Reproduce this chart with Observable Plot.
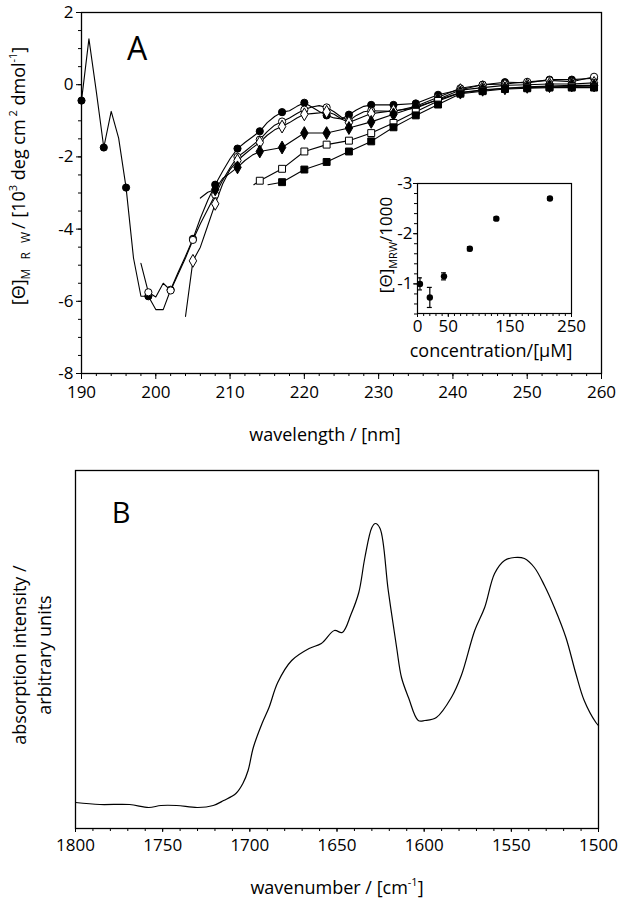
<!DOCTYPE html>
<html><head><meta charset="utf-8">
<script src="https://cdn.jsdelivr.net/npm/d3@7"></script>
<script src="https://cdn.jsdelivr.net/npm/@observablehq/plot@0.6"></script>
<style>
body{margin:0;background:#fff;}
#root{position:relative;width:619px;height:900px;overflow:hidden;background:#fff;font-family:"Open Sans",sans-serif;}
#root svg{position:absolute;overflow:visible;}
</style></head><body><div id="root"></div>
<script>
// ---------- Panel A: CD spectra (wavelength nm, [Θ]MRW 10^3 deg cm2 dmol-1) ----------
const w1 = [190,191,192,193,194,195,196,197,198,199,200,201,202,203,204,205,206,207,208,209,210,211,212,213,214,215,216,217,218,219,220,221,222,223,224,225,226,227,228,229,232,235,238,241,244,247,250,253,256,259];
const v1 = [-0.44,1.27,-0.2,-1.74,-0.74,-1.48,-2.85,-4.8,-5.86,-5.86,-6.23,-6.23,-5.68,-5.2,-4.75,-4.27,-3.7,-3.2,-2.77,-2.4,-2.05,-1.77,-1.6,-1.45,-1.29,-1.05,-0.88,-0.76,-0.72,-0.6,-0.5,-0.62,-0.74,-0.85,-0.92,-0.95,-0.83,-0.7,-0.6,-0.56,-0.56,-0.52,-0.28,-0.14,0.0,0.07,0.05,0.14,0.14,0.18];
const w2 = [198,199,200,201,202,203,204,205,206,207,208,209,210,211,212,213,214,215,216,217,218,219,220,221,222,223,224,225,226,227,228,229,232,235,238,241,244,247,250,253,256,259];
const v2 = [-4.95,-5.75,-5.88,-5.5,-5.7,-5.25,-4.8,-4.3,-3.85,-3.45,-3.05,-2.65,-2.3,-2.0,-1.85,-1.68,-1.52,-1.3,-1.12,-1.02,-0.92,-0.8,-0.69,-0.62,-0.58,-0.63,-0.75,-0.9,-1.0,-0.85,-0.75,-0.72,-0.74,-0.6,-0.35,-0.1,0.0,0.02,0.08,0.12,0.08,0.22];
const w3 = [204,205,206,207,208,209,210,211,212,213,214,215,216,217,218,219,220,221,222,223,224,225,226,229,232,235,238,241,244,247,250,253,256,259];
const v3 = [-6.42,-4.88,-4.5,-3.9,-3.3,-2.75,-2.35,-2.1,-1.92,-1.75,-1.6,-1.4,-1.25,-1.16,-1.05,-0.92,-0.82,-0.8,-0.78,-0.75,-0.82,-0.95,-1.05,-0.8,-0.72,-0.65,-0.4,-0.15,-0.08,-0.02,0.0,0.02,0.02,0.05];
const w4 = [206,207,208,209,210,211,212,213,214,217,220,223,226,229,232,235,238,241,244,247,250,253,256,259];
const v4 = [-3.14,-2.98,-2.9,-2.6,-2.45,-2.29,-2.1,-1.95,-1.85,-1.74,-1.34,-1.34,-1.2,-1.03,-0.82,-0.62,-0.42,-0.22,-0.14,-0.1,-0.06,-0.04,-0.02,-0.02];
const w5 = [213.2,214,217,220,223,226,229,232,235,238,241,244,247,250,253,256,259];
const v5 = [-2.77,-2.66,-2.33,-1.85,-1.66,-1.55,-1.34,-1.06,-0.75,-0.45,-0.22,-0.16,-0.1,-0.08,-0.06,-0.05,-0.06];
const w6 = [215.1,217,220,223,226,229,232,235,238,241,244,247,250,253,256,259];
const v6 = [-2.77,-2.7,-2.35,-2.14,-1.85,-1.57,-1.18,-0.85,-0.55,-0.25,-0.18,-0.12,-0.1,-0.08,-0.08,-0.08];

const xTicksA = [190,200,210,220,230,240,250,260];
const yTicksA = [-8,-6,-4,-2,0,2];

// ---------- Inset: [Θ]MRW/1000 vs concentration ----------
const conc = [4, 20, 43, 85, 128, 215];
const theta = [-1.0, -0.73, -1.15, -1.7, -2.3, -2.7];
const thetaErr = [0.12, 0.2, 0.07, 0.04, 0.03, 0.03];
const xTicksInset = [0, 50, 150, 250];
const yTicksInset = [-3, -2, -1];

// ---------- Panel B: IR absorption (wavenumber cm-1, arbitrary units) ----------
const wn = [1800,1786,1769,1758,1751,1742,1730,1721,1715,1708,1704,1701,1698,1693,1689,1684,1676,1666,1659,1651.5,1647,1642,1637.5,1634,1630,1628,1625.3,1620.6,1615.8,1613,1609,1603.4,1599.6,1593,1584.4,1578.7,1571,1565.3,1559.6,1553.9,1548.2,1542.5,1536.8,1531,1525.3,1518.7,1513,1508.2,1501.5,1500];
const absorb = [26,24,24,21,23,23,21,23,28,35,45,58,81,105,121,146,168,180,185,198,196,214,236,271,301,305,300,238,181,151,131,108,108,111,131,153,198,221,255,268,271,270,261,243,221,191,155,128,106,103];
const xTicksB = [1800,1750,1700,1650,1600,1550,1500];

// ---------- helpers ----------
const FONT = "'Open Sans', sans-serif";
const root = document.getElementById("root");
function place(svg, left, top){ svg.style.left = left+"px"; svg.style.top = top+"px"; root.appendChild(svg); }
const fmt = d => String(d);
const none = () => "";

// ---------- Panel A ----------
const seriesA = [
  {id:"s1", w:w1, v:v1, symbol:"circle", fill:"black"},
  {id:"s2", w:w2, v:v2, symbol:"circle", fill:"white"},
  {id:"s3", w:w3, v:v3, symbol:"diamond", fill:"white"},
  {id:"s4", w:w4, v:v4, symbol:"diamond", fill:"black"},
  {id:"s5", w:w5, v:v5, symbol:"square", fill:"white"},
  {id:"s6", w:w6, v:v6, symbol:"square", fill:"black"}
];
const rowsA = [];
seriesA.forEach(s => s.w.forEach((w,i) => rowsA.push({s:s.id, w, v:s.v[i]})));
const isMarker = d => Math.abs((d.w - 190) % 3) < 1e-6;

const chartA = Plot.plot({
  width: 619, height: 450,
  marginLeft: 81, marginRight: 18, marginTop: 12, marginBottom: 77,
  x: {domain: [190, 260], label: null},
  y: {domain: [-8, 2], label: null},
  style: {fontFamily: FONT, fontSize: "17px", color: "black", background: "transparent", overflow: "visible"},
  marks: [
    Plot.frame({stroke: "black", strokeWidth: 1.3}),
    Plot.axisX({ticks: d3.range(190, 261, 2), tickSize: 3, tickFormat: none, label: null}),
    Plot.axisX({ticks: xTicksA, tickSize: 6, tickPadding: 6, tickFormat: fmt, fontSize: 17, label: null}),
    Plot.axisY({ticks: d3.range(-8, 2.01, 0.5), tickSize: 3, tickFormat: none, label: null}),
    Plot.axisY({ticks: yTicksA, tickSize: 5, tickPadding: 3, tickFormat: fmt, fontSize: 17, label: null}),
    Plot.line(rowsA, {x: "w", y: "v", z: "s", stroke: "black", strokeWidth: 1.1}),
    ...seriesA.map(s => Plot.dot(rowsA.filter(d => d.s === s.id && isMarker(d)),
      {x: "w", y: "v", symbol: s.symbol, fill: s.fill, stroke: "black", strokeWidth: 1, r: s.symbol === "circle" ? 3.6 : 3.9}))
  ]
});
{
  const s = d3.select(chartA);
  s.append("text").attr("x", 137).attr("y", 60).attr("text-anchor", "middle")
    .attr("font-size", 32).attr("font-family", FONT).attr("fill", "black").text("A");
  s.append("text").attr("x", 325).attr("y", 441).attr("text-anchor", "middle")
    .attr("font-size", 18).attr("font-family", FONT).attr("fill", "black").text("wavelength / [nm]");
  const t = s.append("text").attr("transform", "translate(25,176) rotate(-90)").attr("text-anchor", "middle")
    .attr("font-size", 18).attr("font-family", FONT).attr("fill", "black");
  t.append("tspan").text("[Θ]");
  t.append("tspan").attr("font-size", 12).attr("dy", 5).attr("letter-spacing", 3).text("M R W");
  t.append("tspan").attr("dy", -5).text("/ [10");
  t.append("tspan").attr("font-size", 11).attr("dy", -8).text("3");
  t.append("tspan").attr("dy", 8).text(" deg cm");
  t.append("tspan").attr("font-size", 11).attr("dy", -8).text(" 2");
  t.append("tspan").attr("dy", 8).text(" dmol");
  t.append("tspan").attr("font-size", 11).attr("dy", -8).text("-1");
  t.append("tspan").attr("dy", 8).text("]");
}
place(chartA, 0, 0);

// ---------- Inset ----------
const rowsI = conc.map((c, i) => ({c, t: theta[i], e: thetaErr[i]}));
const chartI = Plot.plot({
  width: 250, height: 200,
  marginLeft: 67, marginRight: 29, marginTop: 13, marginBottom: 57,
  x: {domain: [0, 250], label: null},
  y: {domain: [-0.41, -3], label: null},
  style: {fontFamily: FONT, fontSize: "17px", color: "black", background: "transparent", overflow: "visible"},
  marks: [
    Plot.frame({stroke: "black", strokeWidth: 1.2, fill: "white"}),
    Plot.axisX({ticks: d3.range(0, 251, 10), tickSize: 3, tickFormat: none, label: null}),
    Plot.axisX({ticks: xTicksInset, tickSize: 4, tickPadding: 2, tickFormat: fmt, fontSize: 17, label: null}),
    Plot.axisY({ticks: d3.range(-3, -0.39, 0.2), tickSize: 3, tickFormat: none, label: null}),
    Plot.axisY({ticks: yTicksInset, tickSize: 4, tickPadding: 1, tickFormat: fmt, fontSize: 17, label: null}),
    Plot.ruleX(rowsI, {x: "c", y1: d => d.t - d.e, y2: d => d.t + d.e, stroke: "black", strokeWidth: 1.2}),
    Plot.ruleY(rowsI, {y: d => d.t - d.e, x1: d => d.c - 4, x2: d => d.c + 4, stroke: "black", strokeWidth: 1.2}),
    Plot.ruleY(rowsI, {y: d => d.t + d.e, x1: d => d.c - 4, x2: d => d.c + 4, stroke: "black", strokeWidth: 1.2}),
    Plot.dot(rowsI, {x: "c", y: "t", r: 3.2, fill: "black"})
  ]
});
{
  const s = d3.select(chartI);
  s.append("text").attr("x", 141).attr("y", 187).attr("text-anchor", "middle")
    .attr("font-size", 18).attr("font-family", FONT).attr("fill", "black").text("concentration/[µM]");
  const t = s.append("text").attr("transform", "translate(42,75) rotate(-90)").attr("text-anchor", "middle")
    .attr("font-size", 17).attr("font-family", FONT).attr("fill", "black");
  t.append("tspan").text("[Θ]");
  t.append("tspan").attr("font-size", 11).attr("dy", 5).text("MRW");
  t.append("tspan").attr("dy", -5).text("/1000");
}
place(chartI, 350, 170);

// ---------- Panel B ----------
const rowsB = wn.map((x, i) => ({x, y: absorb[i]}));
const chartB = Plot.plot({
  width: 619, height: 450,
  marginLeft: 75, marginRight: 21, marginTop: 20, marginBottom: 72,
  x: {domain: [1800, 1500], label: null},
  y: {domain: [0, 358], label: null, axis: null},
  style: {fontFamily: FONT, fontSize: "17px", color: "black", background: "transparent", overflow: "visible"},
  marks: [
    Plot.frame({stroke: "black", strokeWidth: 1.3}),
    Plot.axisX({ticks: d3.range(1500, 1801, 10), tickSize: 3, tickFormat: none, label: null}),
    Plot.axisX({ticks: xTicksB, tickSize: 4, tickPadding: 6, tickFormat: fmt, fontSize: 17, label: null}),
    Plot.line(rowsB, {x: "x", y: "y", stroke: "black", strokeWidth: 1.2, curve: "catmull-rom"})
  ]
});
{
  const s = d3.select(chartB);
  s.append("text").attr("x", 121).attr("y", 73).attr("text-anchor", "middle")
    .attr("font-size", 29).attr("font-family", FONT).attr("fill", "black").text("B");
  const xl = s.append("text").attr("x", 337).attr("y", 444).attr("text-anchor", "middle")
    .attr("font-size", 18).attr("font-family", FONT).attr("fill", "black");
  xl.append("tspan").text("wavenumber / [cm");
  xl.append("tspan").attr("font-size", 11).attr("dy", -8).text("-1");
  xl.append("tspan").attr("dy", 8).text("]");
  s.append("text").attr("transform", "translate(26,205) rotate(-90)").attr("text-anchor", "middle")
    .attr("font-size", 18).attr("font-family", FONT).attr("fill", "black").text("absorption intensity /");
  s.append("text").attr("transform", "translate(51,205) rotate(-90)").attr("text-anchor", "middle")
    .attr("font-size", 18).attr("font-family", FONT).attr("fill", "black").text("arbitrary units");
}
place(chartB, 0, 450);
</script></body></html>
